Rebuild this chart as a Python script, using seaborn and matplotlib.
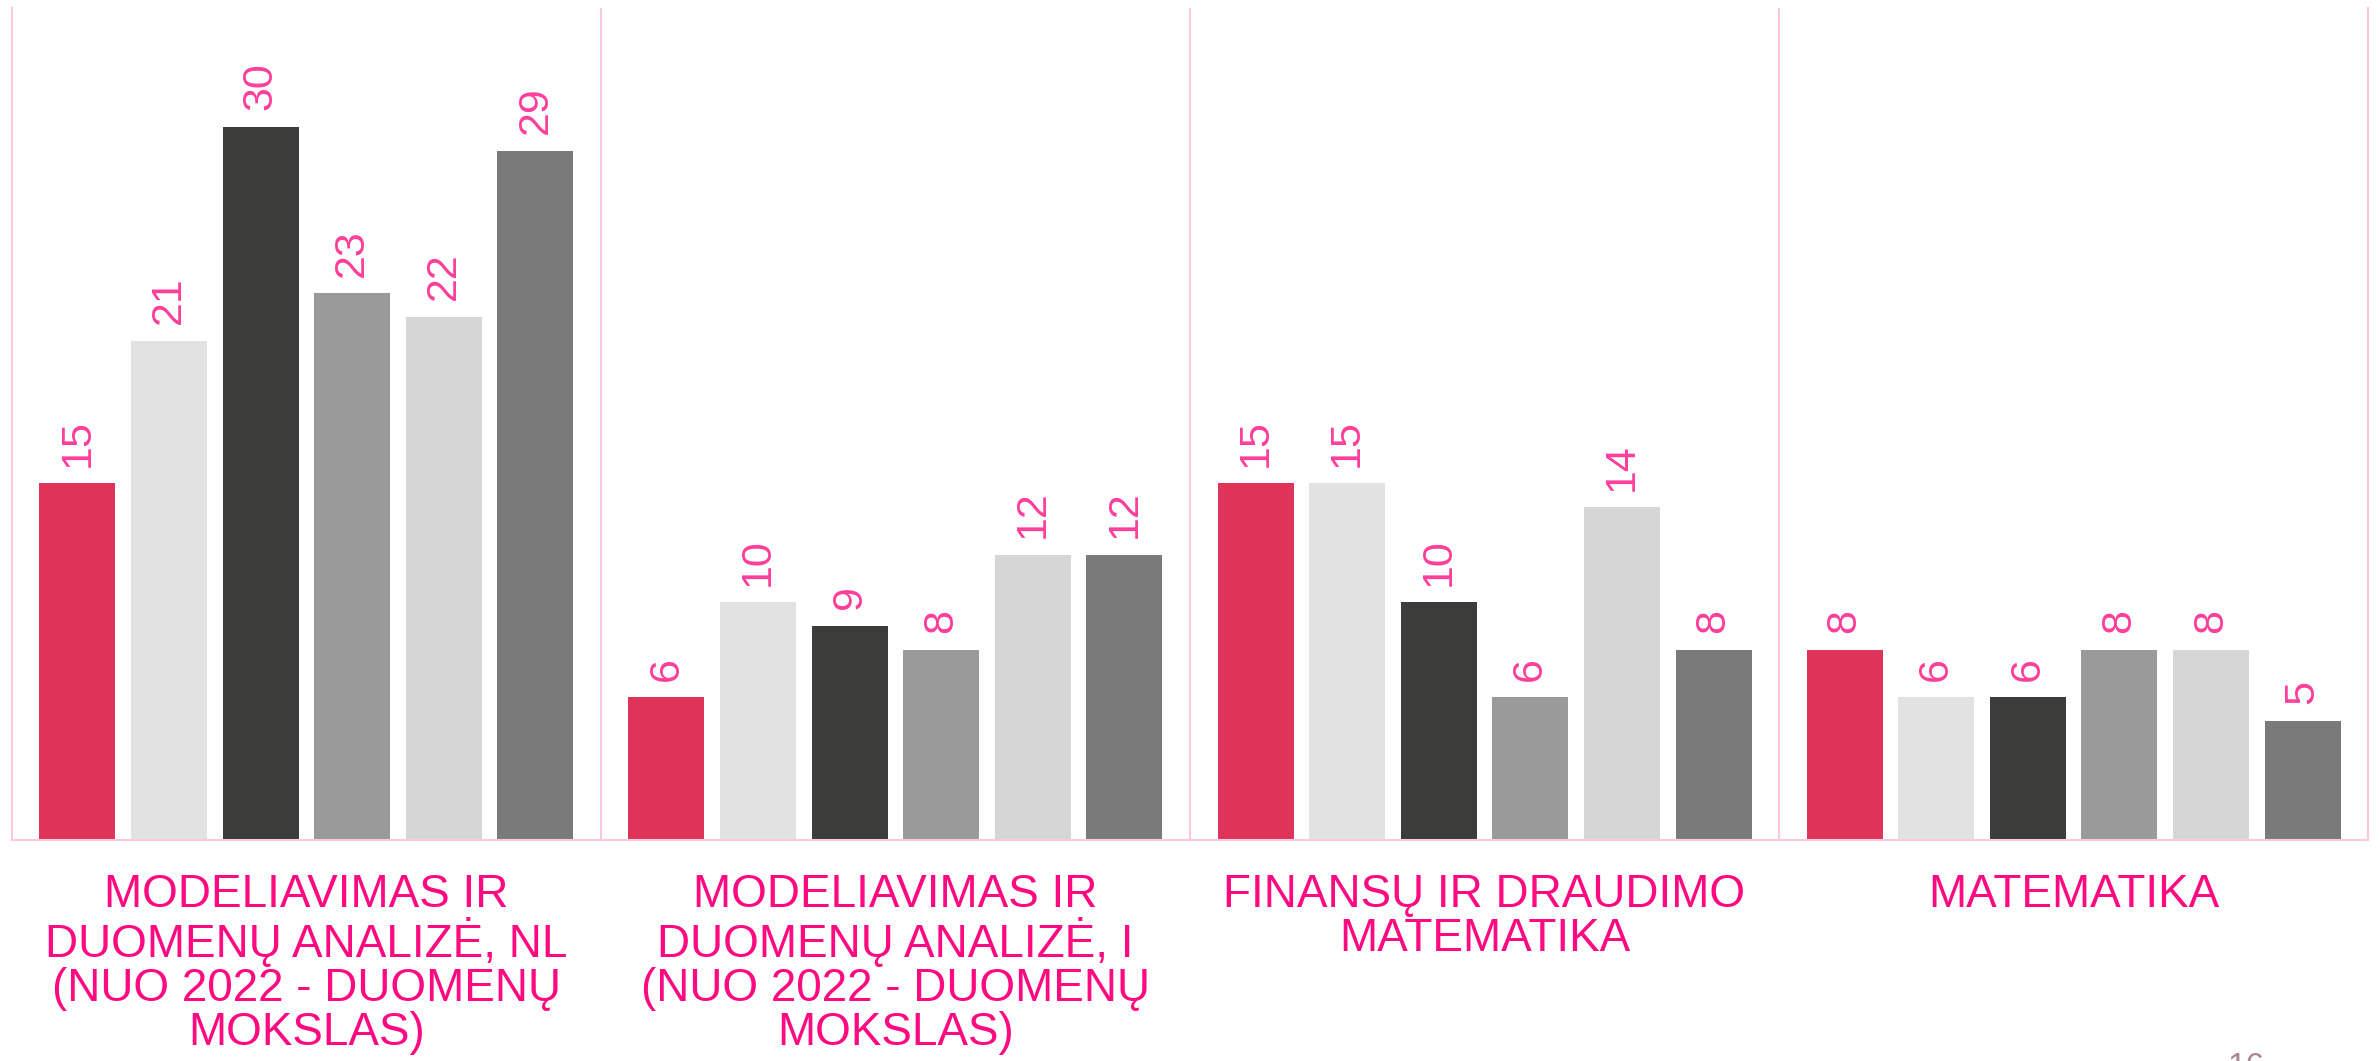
import pandas as pd
import seaborn as sns
import matplotlib.pyplot as plt

# Studijų programos ir reikšmės (6 serijos kiekvienai programai)
programos = [
    "MODELIAVIMAS IR\nDUOMENŲ ANALIZĖ, NL\n(NUO 2022 - DUOMENŲ\nMOKSLAS)",
    "MODELIAVIMAS IR\nDUOMENŲ ANALIZĖ, I\n(NUO 2022 - DUOMENŲ\nMOKSLAS)",
    "FINANSŲ IR DRAUDIMO\nMATEMATIKA",
    "MATEMATIKA",
]
serijos = ["2018", "2019", "2020", "2021", "2022", "2023"]
reiksmes = [
    [15, 21, 30, 23, 22, 29],
    [6, 10, 9, 8, 12, 12],
    [15, 15, 10, 6, 14, 8],
    [8, 6, 6, 8, 8, 5],
]
colors = ["#E0335A", "#E2E2E2", "#3C3C3A", "#9A9A9A", "#D6D6D6", "#7A7A7A"]

rows = []
for prog, vals in zip(programos, reiksmes):
    for s, v in zip(serijos, vals):
        rows.append({"programa": prog, "metai": s, "n": v})
df = pd.DataFrame(rows)

sns.set_style("white")
plt.rcParams['font.family'] = ['Liberation Sans', 'DejaVu Sans']

pink_line = "#FFC8DE"
fig = plt.figure(figsize=(23.8, 10.61), dpi=100)
ax = fig.add_axes([0.005, 0.2083, 0.99, 0.7842])
sns.barplot(data=df, x="programa", y="n", hue="metai", palette=colors,
            width=0.933, gap=0.17, legend=False, ax=ax, linewidth=0,
            saturation=1)

for c in ax.containers:
    ax.bar_label(c, rotation=90, padding=12, fontsize=31, color="#FF3F9B")

ax.set_ylim(0, 35)
ax.set_xlim(-0.5, 3.5)
for x in [0.5, 1.5, 2.5]:
    ax.axvline(x, color=pink_line, lw=1.5, zorder=0)
for side in ["left", "right", "bottom"]:
    ax.spines[side].set_color(pink_line)
    ax.spines[side].set_linewidth(1.5)
ax.spines["top"].set_visible(False)

ax.set_yticks([])
ax.set_xlabel("")
ax.set_ylabel("")
ax.tick_params(axis="x", length=0, pad=24)
for lab in ax.get_xticklabels():
    lab.set_fontsize(33)
    lab.set_color("#FF0A80")
    lab.set_linespacing(1.0)

fig.text(0.9437, 0.0085, "16", ha="center", va="top", fontsize=24, color="#A88890")

fig.savefig("out.png", dpi=100)
